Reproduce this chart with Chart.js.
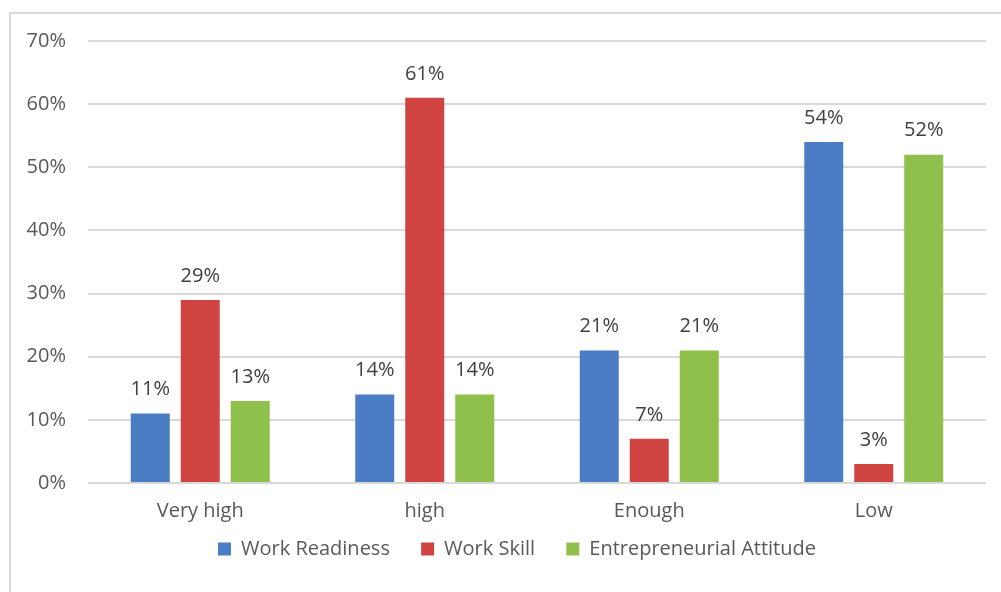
<!DOCTYPE html>
<html>
<head>
<meta charset="utf-8">
<script src="https://cdn.jsdelivr.net/npm/chart.js@4/dist/chart.umd.min.js"></script>
<style>
  html, body { margin: 0; padding: 0; background: #fff; }
  #wrap { width: 1001px; height: 592px; position: relative; }
</style>
</head>
<body>
<div id="wrap"><canvas id="chart" width="1001" height="592"></canvas></div>
<script>
const categories = ['Very high', 'high', 'Enough', 'Low'];
const workReadiness = [11, 14, 21, 54];
const workSkill = [29, 61, 7, 3];
const entrepreneurialAttitude = [13, 14, 21, 52];
const yTicks = [0, 10, 20, 30, 40, 50, 60, 70];

const FONT = '"Open Sans", "Noto Sans", sans-serif';
const FS = 20;

// frame line around the chart (left and top edge visible)
const framePlugin = {
    id: 'frame',
    beforeDraw(chart) {
        const ctx = chart.ctx;
        ctx.save();
        ctx.strokeStyle = '#d9d9d9';
        ctx.lineWidth = 2;
        ctx.beginPath();
        ctx.moveTo(10, chart.height);
        ctx.lineTo(10, 13);
        ctx.lineTo(chart.width, 13);
        ctx.stroke();
        ctx.restore();
    }
};

// nudge the legend a bit right, like the original
const legendShift = {
    id: 'legendShift',
    afterLayout(chart) {
        if (!chart.legend) return;
        chart.legend.left += 24;
        chart.legend.right += 24;
    }
};

// value labels above each bar
const valueLabels = {
    id: 'valueLabels',
    afterDatasetsDraw(chart) {
        const ctx = chart.ctx;
        ctx.save();
        ctx.font = FS + 'px ' + FONT;
        ctx.fillStyle = '#404040';
        ctx.textAlign = 'center';
        ctx.textBaseline = 'middle';
        chart.data.datasets.forEach((ds, i) => {
            chart.getDatasetMeta(i).data.forEach((bar, j) => {
                ctx.fillText(ds.data[j] + '%', bar.x, bar.y - 24);
            });
        });
        ctx.restore();
    }
};

new Chart(document.getElementById('chart'), {
    type: 'bar',
    data: {
        labels: categories,
        datasets: [
            { label: 'Work Readiness', data: workReadiness, backgroundColor: '#4a7dc4' },
            { label: 'Work Skill', data: workSkill, backgroundColor: '#cf4441' },
            { label: 'Entrepreneurial Attitude', data: entrepreneurialAttitude, backgroundColor: '#8fc04b' }
        ]
    },
    options: {
        responsive: false,
        animation: false,
        devicePixelRatio: 1,
        categoryPercentage: 0.668,
        barPercentage: 0.78,
        layout: { padding: { top: 41, right: 15, bottom: 23, left: 0 } },
        plugins: {
            tooltip: { enabled: false },
            legend: {
                position: 'bottom',
                labels: {
                    boxWidth: 13,
                    boxHeight: 13,
                    padding: 0,
                    color: '#595959',
                    font: { family: FONT, size: FS, lineHeight: 1 },
                    // wider gap between items without extra vertical space
                    generateLabels(chart) {
                        const items = Chart.defaults.plugins.legend.labels.generateLabels(chart);
                        items.forEach((it, i) => {
                            if (i < items.length - 1) it.text += '      ';
                        });
                        return items;
                    }
                }
            }
        },
        scales: {
            x: {
                grid: { display: false, drawTicks: false },
                border: { display: false },
                ticks: { color: '#595959', padding: 18, font: { family: FONT, size: FS, lineHeight: 1 } }
            },
            y: {
                min: 0,
                max: 70,
                afterFit(scale) { scale.width = 88; },
                afterBuildTicks(scale) { scale.ticks = yTicks.map(v => ({ value: v })); },
                grid: { color: '#d9d9d9', lineWidth: 2, drawTicks: false },
                border: { display: false },
                ticks: {
                    color: '#595959',
                    padding: 22,
                    font: { family: FONT, size: FS },
                    callback: v => v + '%'
                }
            }
        }
    },
    plugins: [framePlugin, legendShift, valueLabels]
});
</script>
</body>
</html>
